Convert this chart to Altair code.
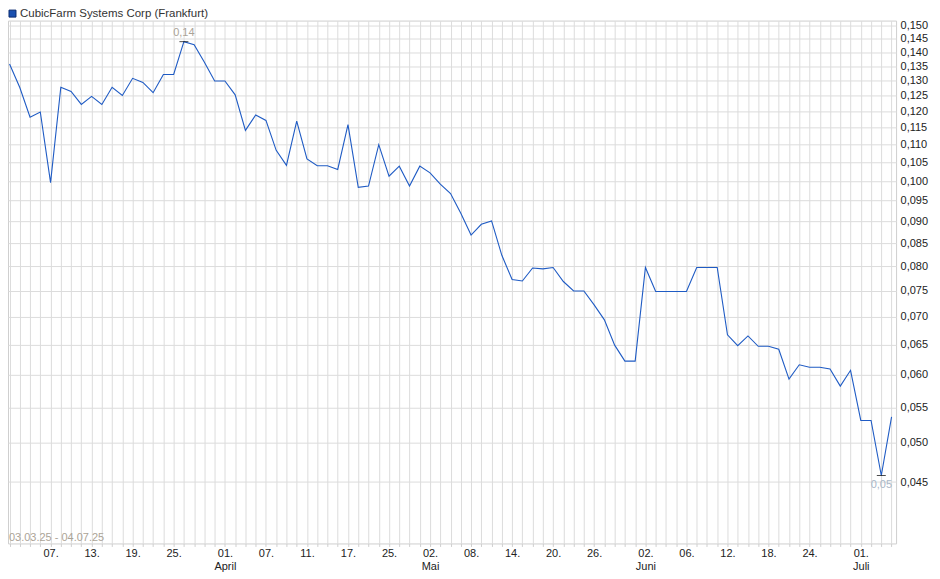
import json
import altair as alt
import pandas as pd

title_text = "CubicFarm Systems Corp (Frankfurt)"
range_text = "03.03.25 - 04.07.25"

holidays = ["2025-04-18", "2025-04-21", "2025-05-01"]
dates = [d.strftime("%Y-%m-%d") for d in pd.bdate_range("2025-03-03", "2025-07-04")
         if d.strftime("%Y-%m-%d") not in holidays]

prices = [0.1358, 0.1277, 0.1182, 0.1198, 0.0996, 0.1278, 0.1264, 0.1222, 0.1248, 0.1222,
          0.1278, 0.1251, 0.1308, 0.1294, 0.1260, 0.1321, 0.1321, 0.1439, 0.1428, 0.1364,
          0.1299, 0.1299, 0.1253, 0.1142, 0.1189, 0.1172, 0.1084, 0.1042, 0.1170, 0.1060,
          0.1041, 0.1041, 0.1031, 0.1159, 0.0984, 0.0987, 0.1100, 0.1013, 0.1040, 0.0987,
          0.1040, 0.1022, 0.0992, 0.0968, 0.0919, 0.0868, 0.0893, 0.0901, 0.0823, 0.0772,
          0.0769, 0.0796, 0.0794, 0.0797, 0.0768, 0.0749, 0.0749, 0.0722, 0.0694, 0.0649,
          0.0622, 0.0622, 0.0797, 0.0748, 0.0748, 0.0748, 0.0748, 0.0797, 0.0797, 0.0797,
          0.0667, 0.0648, 0.0665, 0.0647, 0.0647, 0.0642, 0.0593, 0.0616, 0.0612, 0.0612,
          0.0609, 0.0582, 0.0607, 0.0531, 0.0531, 0.0458, 0.0536]

tick_dates = ["2025-03-07", "2025-03-13", "2025-03-19", "2025-03-25", "2025-04-01",
              "2025-04-07", "2025-04-11", "2025-04-17", "2025-04-25", "2025-05-02",
              "2025-05-08", "2025-05-14", "2025-05-20", "2025-05-26", "2025-06-02",
              "2025-06-06", "2025-06-12", "2025-06-18", "2025-06-24", "2025-07-01"]
month_names = {"2025-04-01": "April", "2025-05-02": "Mai", "2025-06-02": "Juni", "2025-07-01": "Juli"}

y_ticks = [0.045, 0.050, 0.055, 0.060, 0.065, 0.070, 0.075, 0.080, 0.085, 0.090, 0.095,
           0.100, 0.105, 0.110, 0.115, 0.120, 0.125, 0.130, 0.135, 0.140, 0.145, 0.150]

df = pd.DataFrame({"i": list(range(len(dates))), "date": dates, "price": prices})

tick_idx = [dates.index(t) for t in tick_dates]
tick_lbls = [[t[8:10] + ".", month_names[t]] if t in month_names else [t[8:10] + "."]
             for t in tick_dates]
x_label_expr = (f"indexof({json.dumps(tick_idx)}, datum.value) >= 0 ? "
                f"{json.dumps(tick_lbls)}[indexof({json.dumps(tick_idx)}, datum.value)] : ''")

imax = max(range(len(prices)), key=lambda k: prices[k])
imin = min(range(len(prices)), key=lambda k: prices[k])


def fmt2(v):
    return f"{v:.2f}".replace(".", ",")


ext_max = pd.DataFrame([{"i": imax, "price": prices[imax], "label": fmt2(prices[imax])}])
ext_min = pd.DataFrame([{"i": imin, "price": prices[imin], "label": fmt2(prices[imin])}])

W, H = 890, 524
GRID = "#dcdcdc"
FONT = "Liberation Sans"

x_scale = alt.Scale(domain=[-0.15, 86.44], nice=False, zero=False)
y_scale = alt.Scale(type="symlog", constant=0.0025, domain=[0.0381, 0.1520], nice=False, zero=False)

x_enc = alt.X("i:Q", scale=x_scale, axis=alt.Axis(
    values=list(range(len(dates))), tickCount=500, grid=True, gridColor=GRID, gridWidth=1,
    ticks=True, tickSize=3, tickColor="#cfcfcf", domain=False,
    labelExpr=x_label_expr, labelOverlap=False, labelFlush=False, labelBound=False,
    labelPadding=1, labelFontSize=11, labelColor="#222222", labelFont=FONT,
    labelLineHeight=13, labelBaseline="top", title=None))
y_enc = alt.Y("price:Q", scale=y_scale, axis=alt.Axis(
    orient="right", values=y_ticks, tickCount=200, grid=True, gridColor=GRID, gridWidth=1,
    ticks=False, domain=False, labelExpr="replace(format(datum.value, '.3f'), '.', ',')",
    labelOverlap=False, labelFlush=False, labelBound=False, labelPadding=4,
    labelFontSize=11, labelColor="#222222", labelFont=FONT, title=None))

line = alt.Chart(df).mark_line(color="#1f5bc4", strokeWidth=1.1).encode(x=x_enc, y=y_enc)

max_tick = alt.Chart(ext_max).mark_tick(orient="horizontal", size=9, thickness=1, color="#000000").encode(
    x=alt.X("i:Q", scale=x_scale), y=alt.Y("price:Q", scale=y_scale))
min_tick = alt.Chart(ext_min).mark_tick(orient="horizontal", size=9, thickness=1, color="#000000").encode(
    x=alt.X("i:Q", scale=x_scale), y=alt.Y("price:Q", scale=y_scale))
max_text = alt.Chart(ext_max).mark_text(dy=-9, fontSize=11, font=FONT, color="#aaa397").encode(
    x=alt.X("i:Q", scale=x_scale), y=alt.Y("price:Q", scale=y_scale), text="label:N")
min_text = alt.Chart(ext_min).mark_text(dy=10, fontSize=11, font=FONT, color="#a9b8c8").encode(
    x=alt.X("i:Q", scale=x_scale), y=alt.Y("price:Q", scale=y_scale), text="label:N")

info = pd.DataFrame([{"title": title_text, "range": range_text}])
range_lbl = alt.Chart(info).mark_text(align="left", baseline="middle", fontSize=11, font=FONT,
                                      color="#aca497").encode(
    x=alt.value(1), y=alt.value(519), text="range:N")
title_sq = alt.Chart(info).mark_square(size=49, fill="#1a50b0", stroke="#0c2c70", strokeWidth=1,
                                       opacity=1).encode(
    x=alt.value(4.5), y=alt.value(-7))
title_lbl = alt.Chart(info).mark_text(align="left", baseline="middle", fontSize=11.5, font=FONT,
                                      color="#333333").encode(
    x=alt.value(12), y=alt.value(-7), text="title:N")

chart = alt.layer(line, max_tick, min_tick, max_text, min_text, range_lbl, title_sq, title_lbl).properties(
    width=W, height=H,
    autosize=alt.AutoSizeParams(type="none"),
    padding={"left": 0, "top": 12, "right": 36, "bottom": 28},
).configure_view(stroke="#cfcfcf", strokeWidth=1)

chart.save("out.html", embed_options={"renderer": "svg", "actions": False})
